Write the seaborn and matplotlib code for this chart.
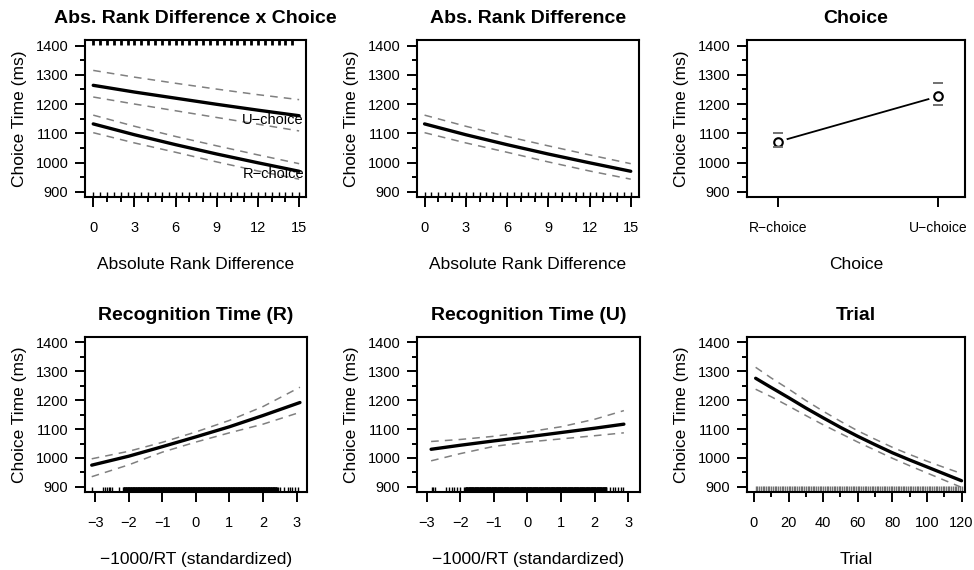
import numpy as np
import pandas as pd
import matplotlib
matplotlib.use("Agg")
import matplotlib.pyplot as plt
from matplotlib.ticker import MultipleLocator
import seaborn as sns

# ---------------- data ----------------
rank_x = [0, 3, 6, 9, 12, 15]
u_fit = [1264, 1241, 1220, 1199, 1179, 1160]
u_upper = [1315, 1292, 1271, 1251, 1232, 1215]
u_lower = [1224, 1200, 1177, 1154, 1131, 1108]
r_fit = [1132, 1095, 1061, 1029, 999, 970]
r_upper = [1162, 1124, 1089, 1057, 1026, 996]
r_lower = [1102, 1067, 1035, 1002, 971, 943]

rank_rug_bottom = [0, 0.5, 1, 1.5, 2, 2.5, 3, 3.5, 4, 4.5, 5, 5.5, 6, 6.5, 7, 7.5,
                   8, 8.5, 9, 9.5, 10, 10.5, 11, 11.5, 12, 12.5, 13, 13.5, 14, 14.5, 15]
rank_rug_top = [0, 0.5, 1, 1.5, 2, 2.5, 3, 3.5, 4, 4.5, 5, 5.5, 6, 6.5, 7, 7.5,
                8, 8.5, 9, 9.5, 10, 10.5, 11, 11.5, 12, 12.5, 13, 13.5, 14, 14.5]

choice_labels = ["R\u2212choice", "U\u2212choice"]
choice_mean = [1071, 1226]
choice_upper = [1101, 1271]
choice_lower = [1052, 1198]

rtr_x = [-3.1, -2, -1, 0, 1, 2, 3.1]
rtr_fit = [975, 1006, 1039, 1073, 1108, 1147, 1192]
rtr_upper = [997, 1023, 1054, 1090, 1130, 1178, 1245]
rtr_lower = [935, 976, 1020, 1055, 1087, 1117, 1158]
rtr_rug_sparse = [-3.1, -2.75, -2.7, -2.65, -2.6, -2.55, -2.5, -2.28,
                  2.45, 2.5, 2.62, 2.75, 2.8, 2.85, 2.95, 3.05]
rtr_rug_dense = (-2.16, 2.41)

rtu_x = [-2.87, -2, -1, 0, 1, 2, 2.87]
rtu_fit = [1030, 1044, 1059, 1073, 1088, 1103, 1117]
rtu_upper = [1057, 1064, 1075, 1090, 1108, 1134, 1164]
rtu_lower = [990, 1015, 1040, 1055, 1066, 1077, 1087]
rtu_rug_sparse = [-2.85, -2.8, -2.75, -2.44, -2.35, -2.25, -2.2, -2.1, -2.0, -1.9,
                  2.45, 2.55, 2.62, 2.7, 2.78, 2.85]
rtu_rug_dense = (-1.85, 2.35)

trial_x = [1, 10, 20, 30, 40, 50, 60, 70, 80, 90, 100, 110, 120]
trial_fit = [1276, 1244, 1209, 1173, 1139, 1106, 1075, 1046, 1018, 993, 969, 945, 921]
trial_upper = [1314, 1277, 1239, 1199, 1162, 1127, 1094, 1065, 1037, 1012, 989, 967, 946]
trial_lower = [1238, 1212, 1180, 1147, 1115, 1085, 1055, 1027, 999, 973, 948, 923, 898]
trial_rug = list(range(1, 121))

# ---------------- style ----------------
sns.set_style("ticks")
plt.rcParams['font.family'] = ['Liberation Sans', 'DejaVu Sans']
plt.rcParams['axes.unicode_minus'] = True
plt.rcParams['text.color'] = 'black'
plt.rcParams['axes.labelcolor'] = 'black'
plt.rcParams['xtick.color'] = 'black'
plt.rcParams['ytick.color'] = 'black'

W, H = 974, 570
fig = plt.figure(figsize=(W / 100, H / 100), dpi=100)


def make_ax(l, r, t, b):
    return fig.add_axes([l / W, 1 - b / H, (r - l) / W, (b - t) / H])


def style(ax, xlim, xmajor, xminor, title, xlabel, labelsize=10.5):
    ax.set_ylim(882, 1419)
    ax.set_xlim(*xlim)
    ax.yaxis.set_major_locator(MultipleLocator(100))
    ax.yaxis.set_minor_locator(MultipleLocator(50))
    if xmajor is not None:
        ax.set_xticks(xmajor)
    if xminor is not None:
        ax.set_xticks(xminor, minor=True)
    for s in ax.spines.values():
        s.set_visible(True)
        s.set_linewidth(1.5)
        s.set_color('black')
    ax.tick_params(which='major', length=7, width=1.4, color='black',
                   labelsize=labelsize, labelcolor='black')
    ax.tick_params(which='minor', length=3.5, width=1.4, color='black')
    ax.tick_params(axis='x', which='both', pad=10)
    ax.tick_params(axis='y', which='both', pad=5, labelsize=10.5)
    ax.set_title(title, fontsize=14, fontweight='bold', pad=12, color='black')
    ax.set_xlabel(xlabel, fontsize=12.5, labelpad=16, color='black')
    ax.set_ylabel("Choice Time (ms)", fontsize=12.5, labelpad=6, color='black')


def fit_lines(ax, xs, fit, lo, hi):
    dash = dict(color='#808080', lw=1.1, linestyle=(0, (5, 4)))
    sns.lineplot(x=xs, y=hi, ax=ax, **dash)
    sns.lineplot(x=xs, y=lo, ax=ax, **dash)
    sns.lineplot(x=xs, y=fit, ax=ax, color='black', lw=2.4)


def dense_rug(ax, sparse, dense, height):
    vals = list(sparse) + list(np.linspace(dense[0], dense[1], 400))
    sns.rugplot(x=vals, ax=ax, height=height, color='black', lw=1.0,
                expand_margins=False)


# ---- top-left ----
ax1 = make_ax(85, 306, 40, 197)
fit_lines(ax1, rank_x, u_fit, u_lower, u_upper)
fit_lines(ax1, rank_x, r_fit, r_lower, r_upper)
sns.rugplot(x=rank_rug_bottom, ax=ax1, height=0.03, color='black', lw=2,
            expand_margins=False)
ax1.vlines(rank_rug_top, 0.97, 1.0, transform=ax1.get_xaxis_transform(),
           color='black', lw=2)
ax1.text(15.35, 1145, "U\u2212choice", ha='right', va='center', fontsize=10.5)
ax1.text(15.35, 960, "R\u2212choice", ha='right', va='center', fontsize=10.5)
style(ax1, (-0.6, 15.5), [0, 3, 6, 9, 12, 15], list(range(16)),
      "Abs. Rank Difference x Choice", "Absolute Rank Difference")

# ---- top-middle ----
ax2 = make_ax(417, 639, 40, 197)
fit_lines(ax2, rank_x, r_fit, r_lower, r_upper)
sns.rugplot(x=rank_rug_bottom, ax=ax2, height=0.03, color='black', lw=2,
            expand_margins=False)
style(ax2, (-0.55, 15.6), [0, 3, 6, 9, 12, 15], list(range(16)),
      "Abs. Rank Difference", "Absolute Rank Difference")

# ---- top-right ----
ax3 = make_ax(747, 965, 40, 197)
cdf = pd.DataFrame({"choice": choice_labels, "mean": choice_mean,
                    "upper": choice_upper, "lower": choice_lower})
sns.lineplot(data=cdf, x="choice", y="mean", ax=ax3, color='black', lw=1.3)
sns.scatterplot(data=cdf, x="choice", y="mean", ax=ax3, s=170, color='white',
                edgecolor='none', zorder=3)
sns.scatterplot(data=cdf, x="choice", y="mean", ax=ax3, s=38, facecolor='white',
                edgecolor='black', linewidth=1.5, zorder=4)
sns.scatterplot(data=cdf, x="choice", y="upper", ax=ax3, marker='_', s=45,
                color='#707070', linewidth=1.4, zorder=4)
sns.scatterplot(data=cdf, x="choice", y="lower", ax=ax3, marker='_', s=45,
                color='#707070', linewidth=1.4, zorder=4)
style(ax3, (-0.194, 1.169), None, None, "Choice", "Choice", labelsize=10)
ax3.xaxis.set_minor_locator(plt.NullLocator())

# ---- bottom-left ----
ax4 = make_ax(85, 307, 337, 492)
fit_lines(ax4, rtr_x, rtr_fit, rtr_lower, rtr_upper)
dense_rug(ax4, rtr_rug_sparse, rtr_rug_dense, 0.035)
style(ax4, (-3.3, 3.31), [-3, -2, -1, 0, 1, 2, 3], None,
      "Recognition Time (R)", "\u22121000/RT (standardized)")

# ---- bottom-middle ----
ax5 = make_ax(417, 640, 337, 492)
fit_lines(ax5, rtu_x, rtu_fit, rtu_lower, rtu_upper)
dense_rug(ax5, rtu_rug_sparse, rtu_rug_dense, 0.035)
style(ax5, (-3.29, 3.35), [-3, -2, -1, 0, 1, 2, 3], None,
      "Recognition Time (U)", "\u22121000/RT (standardized)")

# ---- bottom-right ----
ax6 = make_ax(747, 965, 337, 492)
fit_lines(ax6, trial_x, trial_fit, trial_lower, trial_upper)
sns.rugplot(x=trial_rug, ax=ax6, height=0.04, color='#707070', lw=0.9,
            expand_margins=False)
style(ax6, (-4, 122), [0, 20, 40, 60, 80, 100, 120], list(range(0, 121, 10)),
      "Trial", "Trial")

fig.savefig("out.png", dpi=100)
